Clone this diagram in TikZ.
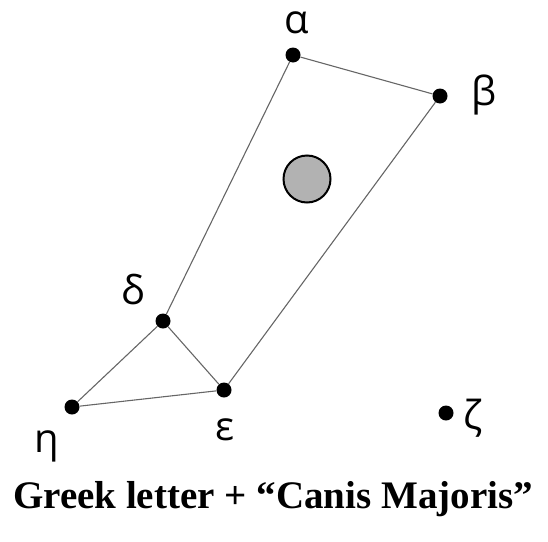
\documentclass[tikz,border=0pt]{standalone}
\usepackage{fontspec}
\setmainfont{Liberation Serif}
\newfontfamily\greekfont{Open Sans}
\usetikzlibrary{positioning}

\tikzset{
    star/.style={circle, fill=black, inner sep=0pt, minimum size=15pt},
    starname/.style={font=\greekfont\fontsize{40}{40}\selectfont, inner sep=0pt},
    link/.style={draw=black!60, line width=1.1pt}
}

\begin{document}
\begin{tikzpicture}[x=1pt, y=-1pt]

\useasboundingbox (0,0) rectangle (548,541);

% Estrelles
\node[star] (alpha) at (293,55) {};
\node[star] (beta) at (440,96) {};
\node[star] (delta) at (163,321) {};
\node[star] (epsilon) at (224,390) {};
\node[star] (eta) at (72,407) {};
\node[star] (zeta) at (446,413) {};

% Noms
\node[starname] (alphaname) at (297,23) {α};
\node[starname] (betaname) at (484,95) {β};
\node[starname] (deltaname) at (133,290) {δ};
\node[starname] (epsilonname) at (225,430) {ε};
\node[starname] (etaname) at (47,446) {η};
\node[starname] (zetaname) at (473,418) {ζ};

% Línies
\draw[link] (alpha) -- (beta);
\draw[link] (beta) -- (epsilon);
\draw[link] (alpha) -- (delta);
\draw[link] (delta) -- (epsilon);
\draw[link] (delta) -- (eta);
\draw[link] (eta) -- (epsilon);

% Objecte
\draw[
    line width=2pt,
    fill=black!30
] (307,179) circle (23.5pt);

% Títol
\node[font=\bfseries\fontsize{39}{39}\selectfont, anchor=base] (title) at (273,508)
    {Greek letter + “Canis Majoris”};

\end{tikzpicture}
\end{document}
